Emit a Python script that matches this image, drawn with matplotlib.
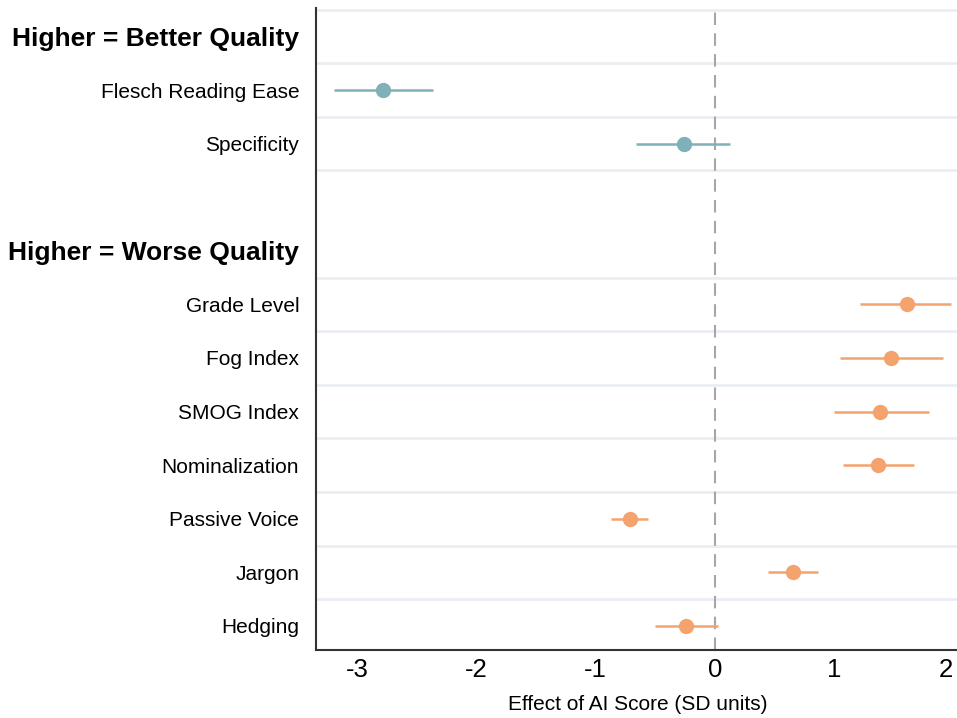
import matplotlib.pyplot as plt
import numpy as np

plt.rcParams['font.family'] = ['Liberation Sans', 'DejaVu Sans']

# rows top to bottom; '' = spacer row
labels = ['Higher = Better Quality', 'Flesch Reading Ease', 'Specificity', '',
          'Higher = Worse Quality', 'Grade Level', 'Fog Index', 'SMOG Index',
          'Nominalization', 'Passive Voice', 'Jargon', 'Hedging']
headers = ['Higher = Better Quality', 'Higher = Worse Quality']

better_names = ['Flesch Reading Ease', 'Specificity']
better_est = [-2.79, -0.26]
better_lo = [-3.20, -0.66]
better_hi = [-2.37, 0.13]

worse_names = ['Grade Level', 'Fog Index', 'SMOG Index', 'Nominalization',
               'Passive Voice', 'Jargon', 'Hedging']
worse_est = [1.61, 1.48, 1.39, 1.37, -0.71, 0.66, -0.24]
worse_lo = [1.22, 1.05, 1.00, 1.08, -0.87, 0.45, -0.50]
worse_hi = [1.98, 1.92, 1.80, 1.67, -0.56, 0.87, 0.03]

xticks = [-3, -2, -1, 0, 1, 2]

teal = '#80B1B8'
orange = '#F4A36C'

fig = plt.figure(figsize=(9.57, 7.18), dpi=100)
ax = fig.add_axes([0.330, 0.0947, 0.672, 0.894])

pos = {name: i for i, name in enumerate(labels)}

# light horizontal separators
for y in [-0.5, 0.5, 1.5, 2.5, 4.5, 5.5, 6.5, 7.5, 8.5, 9.5, 10.5]:
    ax.axhline(y, color='#EAEEF2', lw=2, zorder=0)

ax.axvline(0, color='#A6A6A6', lw=1.5, ls=(0, (6, 4)), zorder=1)

for names, est, lo, hi, col in [(better_names, better_est, better_lo, better_hi, teal),
                                (worse_names, worse_est, worse_lo, worse_hi, orange)]:
    ys = np.array([pos[n] for n in names])
    ax.hlines(ys, lo, hi, color=col, lw=1.8, zorder=2)
    ax.plot(est, ys, 'o', color=col, ms=10, zorder=3)

ax.set_ylim(11.45, -0.53)
ax.set_xlim(-3.35, 2.05)
ax.set_yticks(range(len(labels)))
ax.set_yticklabels(labels)
for t in ax.get_yticklabels():
    if t.get_text() in headers:
        t.set_fontweight('bold')
        t.set_fontsize(19)
    else:
        t.set_fontsize(15)
ax.set_xticks(xticks)
ax.set_xticklabels([str(v) for v in xticks], fontsize=18.5)
# keep the last tick label inside the figure
ax.get_xticklabels()[-1].set_horizontalalignment('right')
ax.tick_params(axis='y', length=0, pad=12)
ax.tick_params(axis='x', length=0, pad=6)
ax.set_xlabel('Effect of AI Score (SD units)', fontsize=15, labelpad=9)

for s in ['top', 'right']:
    ax.spines[s].set_visible(False)
for s in ['left', 'bottom']:
    ax.spines[s].set_color('#333333')
    ax.spines[s].set_linewidth(1.5)

fig.savefig('out.png', dpi=100, facecolor='white')
